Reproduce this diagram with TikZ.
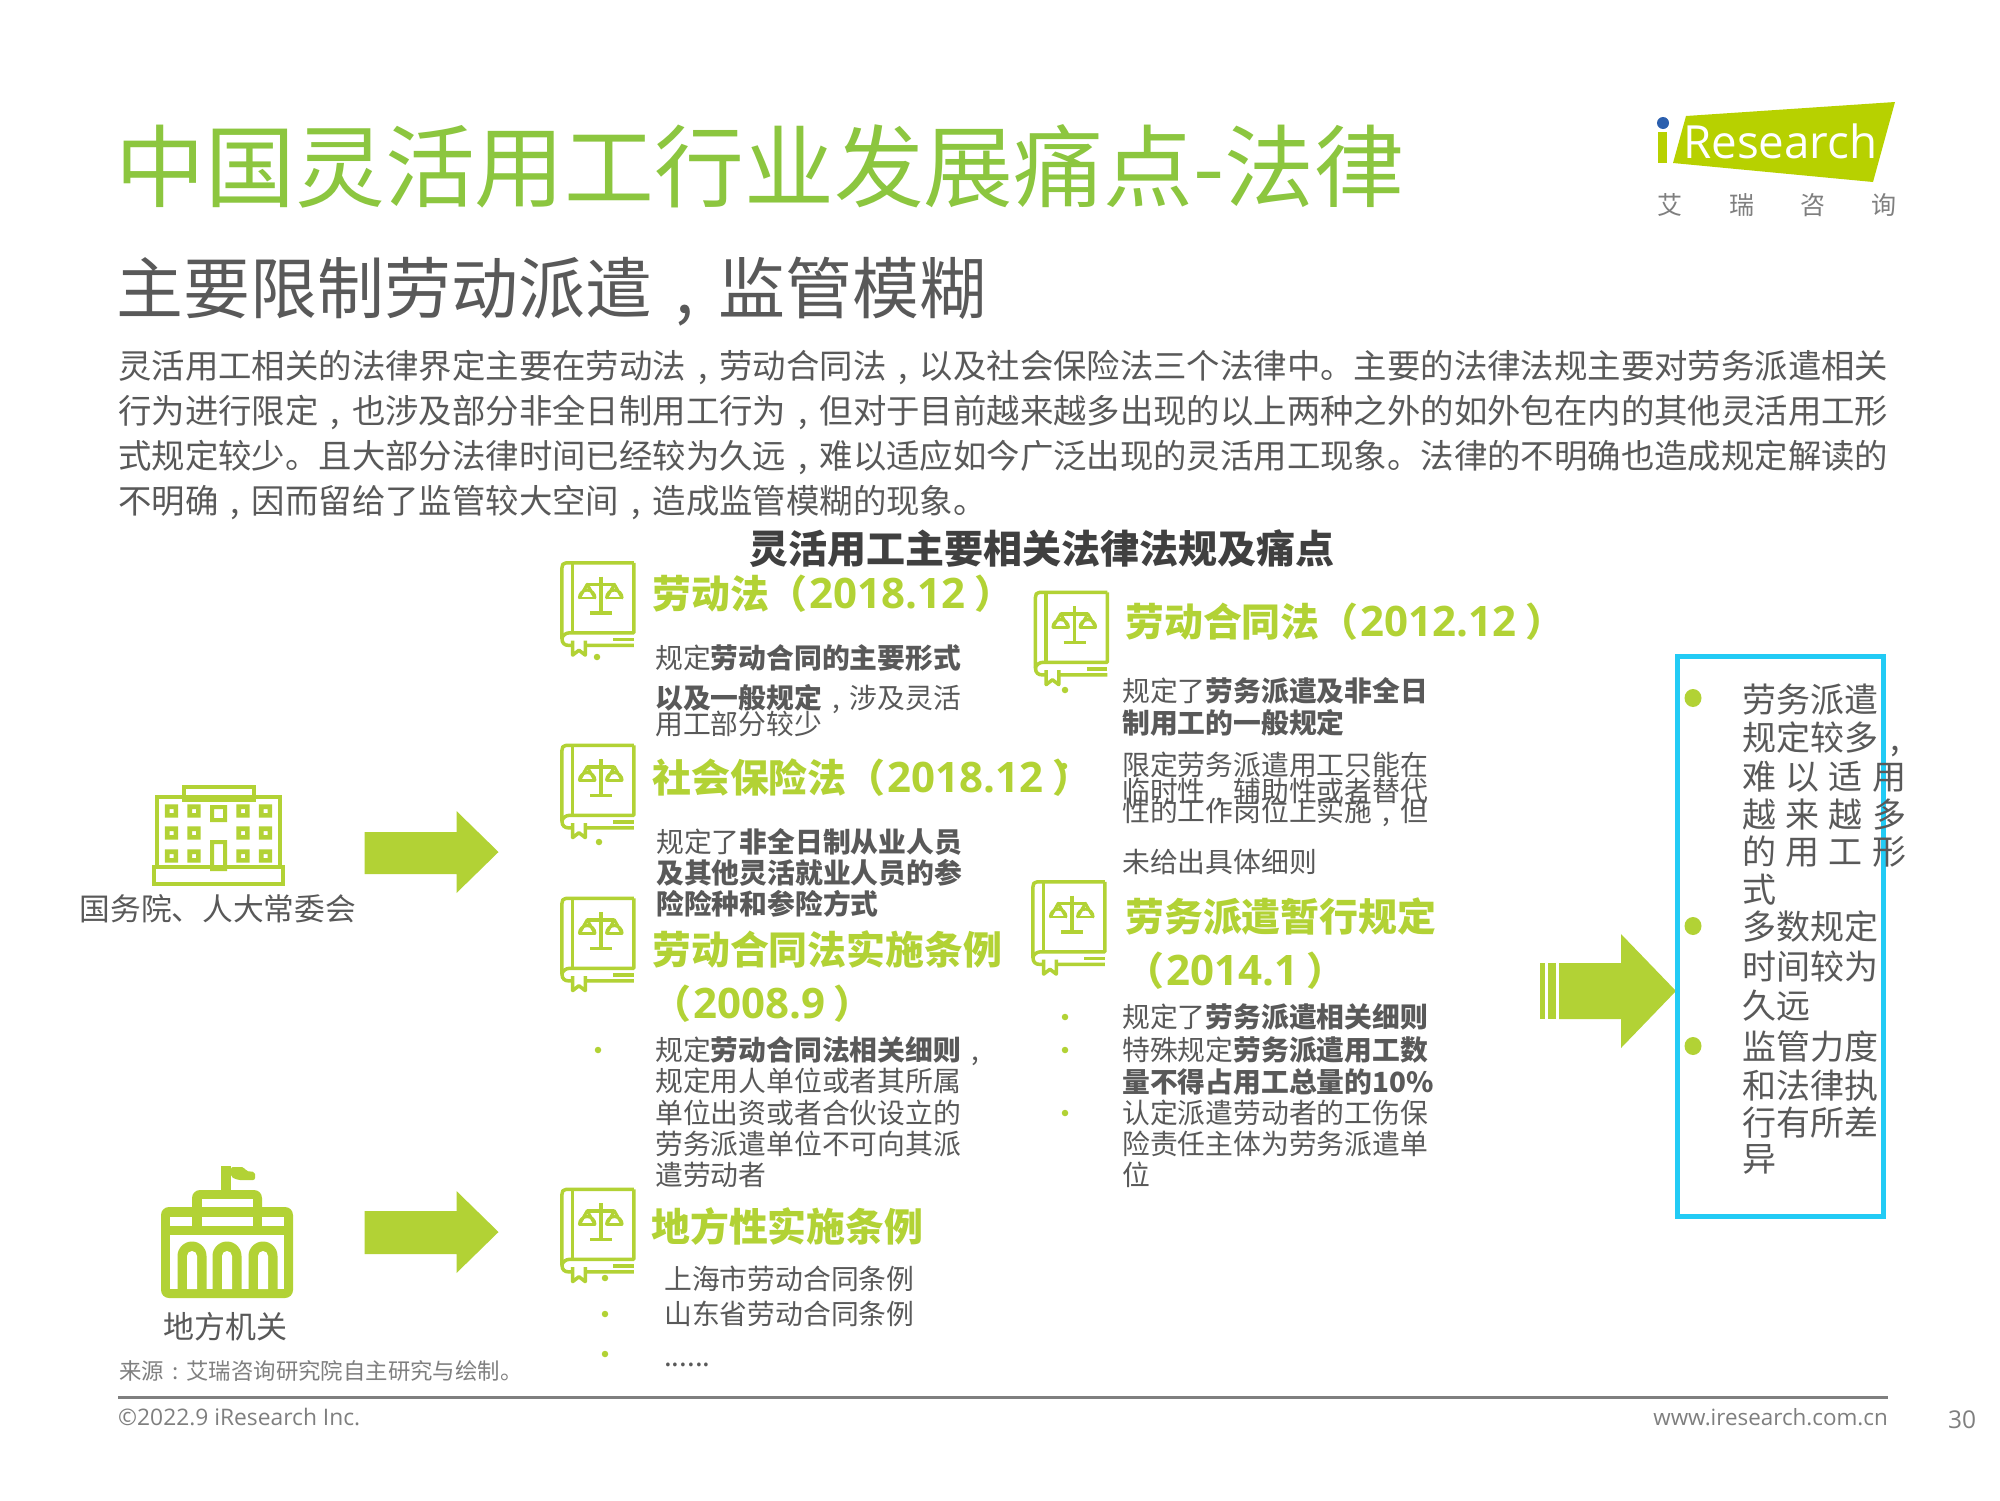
\documentclass[tikz,border=0pt]{standalone}
\usepackage{fontspec}
\setmainfont{Noto Sans CJK SC}
\newfontfamily\latinfont{Open Sans}
\definecolor{titlegreen}{HTML}{8CC63F}
\definecolor{icongreen}{HTML}{B2D235}
\definecolor{logogreen}{HTML}{B7D100}
\definecolor{logoblue}{HTML}{2B5FAE}
\definecolor{boxblue}{HTML}{22CBF5}
\definecolor{txtgray}{HTML}{595959}
\definecolor{darkgray}{HTML}{404040}
\definecolor{footgray}{HTML}{7F7F7F}
\usetikzlibrary{shapes.geometric}
\tikzset{
  x=1pt,y=-1pt,
  line/.style={anchor=west,inner sep=0pt,font=\fontsize{#1}{#1}\selectfont,text height=0.88*#1 pt,text depth=0.12*#1 pt},
  titleline/.style={line=89.8,text=titlegreen},
  subline/.style={line=66.9,text=txtgray},
  paraline/.style={line=33.4,text=txtgray},
  lawhead/.style={line=38.9,text=icongreen,font=\fontsize{38.9}{38.9}\selectfont\bfseries},
  small/.style={line=27.8,text=txtgray},
  boxline/.style={line=34,text=txtgray},
  tag/.style={line=30.7,text=txtgray},
  bullet/.style={circle,fill=icongreen,inner sep=0pt,minimum size=6.5pt},
  bigbullet/.style={ellipse,fill=icongreen,inner sep=0pt,minimum width=17pt,minimum height=18pt},
  bookline/.style={draw=icongreen,line width=3.5pt,line cap=butt,line join=round},
  blockarrow/.style={fill=icongreen,draw=none},
}
\newcommand{\zc}{\makebox[1em][c]{,}}
\newcommand{\zcolon}{\makebox[1em][c]{:}}
\newcommand{\yr}[1]{\hspace{2pt}{\latinfont\fontsize{42}{42}\selectfont\bfseries #1}\hspace{9pt}）}
\newcommand{\bookicon}[2]{%
  \begin{scope}[shift={(#1,#2)},scale=0.97]
    \draw[bookline] (75,2) -- (5,2) .. controls (2,2) and (1,4) .. (1,7) -- (1,80) .. controls (1,85) and (4,87) .. (8,87) -- (75,87);
    \draw[bookline] (75,2) -- (75,74) -- (9,74) .. controls (5,74) and (1,77) .. (1,80);
    \draw[bookline] (12,2) -- (12,74);
    \draw[bookline] (54,81) -- (75,81);
    \draw[bookline,fill=white] (12,82) -- (12,97) -- (18.5,92) -- (25,97) -- (25,82);
    \draw[bookline] (41,16) -- (41,53);
    \draw[bookline] (30,53.5) -- (53,53.5);
    \draw[bookline] (27,24) -- (55,24);
    \draw[bookline,line width=3pt] (27,24) -- (19,38) arc[start angle=180,end angle=360,x radius=8,y radius=8] -- cycle;
    \draw[bookline,line width=3pt] (55,24) -- (47,38) arc[start angle=180,end angle=360,x radius=8,y radius=8] -- cycle;
    \draw[bookline,line width=2.4pt] (19,38) -- (35,38) (47,38) -- (63,38);
  \end{scope}}
\begin{document}
\begin{tikzpicture}
\useasboundingbox (0,0) rectangle (2000,1500);
\fill[white] (0,0) rectangle (2000,1500);

% header
\node[titleline] (title) at (115.5,166) {中国灵活用工行业发展痛点-法律};
\node[subline] (sub) at (116.5,288) {主要限制劳动派遣\zc 监管模糊};
\node[paraline] (p1) at (118,366) {灵活用工相关的法律界定主要在劳动法\zc 劳动合同法\zc 以及社会保险法三个法律中。主要的法律法规主要对劳务派遣相关};
\node[paraline] (p2) at (118,411) {行为进行限定\zc 也涉及部分非全日制用工行为\zc 但对于目前越来越多出现的以上两种之外的如外包在内的其他灵活用工形};
\node[paraline] (p3) at (118,456) {式规定较少。且大部分法律时间已经较为久远\zc 难以适应如今广泛出现的灵活用工现象。法律的不明确也造成规定解读的};
\node[paraline] (p4) at (118,501) {不明确\zc 因而留给了监管较大空间\zc 造成监管模糊的现象。};
\node[line=39,text=darkgray,font=\fontsize{39}{39}\selectfont\bfseries] (chart) at (749.5,548.5) {灵活用工主要相关法律法规及痛点};

% logo
\fill[logogreen] (1686,116) -- (1895,102) -- (1873,182) -- (1673,163) -- cycle;
\fill[logogreen] (1658,132) rectangle (1667,163);
\fill[logoblue] (1663,123) circle[radius=6];
\node[anchor=base west,inner sep=0pt,text=white,font=\latinfont\fontsize{45.7}{45.7}\selectfont] (logotext) at (1683,158) {Research};
\node[line=25,text=footgray] (l1) at (1657,205) {艾};
\node[line=25,text=footgray] (l2) at (1729,205) {瑞};
\node[line=25,text=footgray] (l3) at (1800,205) {咨};
\node[line=25,text=footgray] (l4) at (1871,205) {询};

% left column icons
\begin{scope}[icongreen]
  % government building
  \draw[line width=4pt,fill=white] (184,787) rectangle (254,800);
  \draw[line width=4pt] (157,797) rectangle (280,868);
  \draw[line width=4pt,fill=white] (154,867) rectangle (283,884);
  \foreach \cx in {171.5,194,243,265.5}
    \foreach \cy in {811,833,856}
      {\fill[even odd rule] (\cx-6.7,\cy-6.7) rectangle (\cx+6.7,\cy+6.7) (\cx-2,\cy-2) rectangle (\cx+2,\cy+2);}
  \fill[even odd rule] (210,805) rectangle (227,822) (214,809) rectangle (223,818);
  \fill[even odd rule] (210,840) rectangle (227,871) (214,844) rectangle (223,867);
\end{scope}
\node[tag] (gov) at (79.5,909) {国务院、人大常委会};

\begin{scope}[icongreen]
  % local authority building
  \fill (221,1166) rectangle (231,1190);
  \fill[rounded corners=2pt] (231,1167) -- (244,1167) -- (246,1171) -- (255,1172) -- (255,1180) -- (238,1180) -- (231,1177) -- cycle;
  \fill[rounded corners=8pt] (192,1190) rectangle (262,1225);
  \fill[rounded corners=8pt] (161,1207) rectangle (293,1298);
  \fill[white] (202,1199) rectangle (253,1207);
  \fill[white] (170,1217) rectangle (192,1226);
  \fill[white] (202,1217) rectangle (253,1226);
  \fill[white] (262,1217) rectangle (284,1226);
  \fill[white] (170,1235) rectangle (284,1289);
  \foreach \ax in {192,227,263}
    {\fill (\ax-14.5,1289) -- (\ax-14.5,1256) arc[start angle=180,end angle=0,x radius=14.5,y radius=-14.5] -- (\ax+14.5,1289) -- cycle;
     \fill[white] (\ax-5,1289) -- (\ax-5,1256) arc[start angle=180,end angle=0,x radius=5,y radius=-5] -- (\ax+5,1289) -- cycle;}
\end{scope}
\node[line=31,text=txtgray] (local) at (163,1327) {地方机关};

% block arrows
\fill[blockarrow] (364.5,832) -- (456.5,832) -- (456.5,811) -- (498.5,852) -- (456.5,893) -- (456.5,874) -- (364.5,874) -- cycle;
\fill[blockarrow] (364.5,1211) -- (456.5,1211) -- (456.5,1191) -- (498.5,1232) -- (456.5,1273) -- (456.5,1254) -- (364.5,1254) -- cycle;
\fill[blockarrow] (1559,963) -- (1621,963) -- (1621,934) -- (1676,991) -- (1621,1048) -- (1621,1019) -- (1559,1019) -- cycle;
\fill[blockarrow] (1539.5,963) rectangle (1544.5,1019);
\fill[blockarrow] (1547.5,963) rectangle (1555.5,1019);

% middle column
\bookicon{561}{561}
\node[lawhead] (h1) at (652,594) {劳动法（\yr{2018.12}};
\node[small] (a1) at (655,658) {规定{\bfseries 劳动合同的主要形式}};
\node[small] (a2) at (655,698) {{\bfseries 以及一般规定}\zc 涉及灵活};
\node[small] (a3) at (655,724) {用工部分较少};
\node[bullet] (ab1) at (597,657) {};

\bookicon{561}{743.5}
\node[lawhead] (h2) at (652,778) {社会保险法（\yr{2018.12}};
\node[small] (b1) at (656,842) {规定了{\bfseries 非全日制从业人员}};
\node[small] (b2) at (656,873) {{\bfseries 及其他灵活就业人员的参}};
\node[small] (b3) at (656,904) {{\bfseries 险险种和参险方式}};
\node[bullet] (bb1) at (599,842) {};

\bookicon{561}{896.5}
\node[lawhead] (h3) at (652,950) {劳动合同法实施条例};
\node[lawhead] (h3b) at (652,1004) {（\yr{2008.9}};
\node[small] (c1) at (655,1050) {规定{\bfseries 劳动合同法相关细则}\zc};
\node[small] (c2) at (655,1081) {规定用人单位或者其所属};
\node[small] (c3) at (655,1113) {单位出资或者合伙设立的};
\node[small] (c4) at (655,1144) {劳务派遣单位不可向其派};
\node[small] (c5) at (655,1175) {遣劳动者};
\node[bullet] (cb1) at (598,1050) {};

\bookicon{561}{1187.5}
\node[lawhead] (h4) at (651,1227) {地方性实施条例};
\node[small] (d1) at (664,1279) {上海市劳动合同条例};
\node[small] (d2) at (664,1314) {山东省劳动合同条例};
\node[small] (d3) at (664,1356) {......};
\node[bullet] (db1) at (605,1278) {};
\node[bullet] (db2) at (605,1314) {};
\node[bullet] (db3) at (605,1354) {};

% right column
\bookicon{1034.5}{590.5}
\node[lawhead] (h5) at (1125,622) {劳动合同法（\yr{2012.12}};
\node[small] (e1) at (1122,691) {规定了{\bfseries 劳务派遣及非全日}};
\node[small] (e2) at (1122,723) {{\bfseries 制用工的一般规定}};
\node[small] (e3) at (1122,765) {限定劳务派遣用工只能在};
\node[small] (e4) at (1122,791) {临时性\zc 辅助性或者替代};
\node[small] (e5) at (1122,811) {性的工作岗位上实施\zc 但};
\node[small] (e6) at (1122,862) {未给出具体细则};
\node[bullet] (eb1) at (1065,690) {};
\node[bullet] (eb2) at (1064,766) {};

\bookicon{1032}{880}
\node[lawhead] (h6) at (1125,917) {劳务派遣暂行规定};
\node[lawhead] (h6b) at (1125,971) {（\yr{2014.1}};
\node[small] (f1) at (1122,1017) {规定了{\bfseries 劳务派遣相关细则}};
\node[small] (f2) at (1122,1050) {特殊规定{\bfseries 劳务派遣用工数}};
\node[small] (f3) at (1122,1082) {{\bfseries 量不得占用工总量的10\%}};
\node[small] (f4) at (1122,1113) {认定派遣劳动者的工伤保};
\node[small] (f5) at (1122,1144) {险责任主体为劳务派遣单};
\node[small] (f6) at (1122,1175) {位};
\node[bullet] (fb1) at (1065,1017) {};
\node[bullet] (fb2) at (1065,1050) {};
\node[bullet] (fb3) at (1065,1113) {};

% blue box
\node[draw=boxblue,line width=5pt,inner sep=0pt,minimum width=206pt,minimum height=560pt,anchor=north west] (box) at (1675,654) {};
\node[bigbullet] (g1) at (1693,698) {};
\node[bigbullet] (g2) at (1693,926) {};
\node[bigbullet] (g3) at (1693,1046) {};
\node[boxline] (k1) at (1742,700) {劳务派遣};
\node[boxline] (k2) at (1742,738) {规定较多\zc};
\node[boxline] (k3) at (1742,777) {\makebox[164pt][s]{难\hfill 以\hfill 适\hfill 用}};
\node[boxline] (k4) at (1742,815) {\makebox[164pt][s]{越\hfill 来\hfill 越\hfill 多}};
\node[boxline] (k5) at (1742,852) {\makebox[164pt][s]{的\hfill 用\hfill 工\hfill 形}};
\node[boxline] (k6) at (1742,890) {式};
\node[boxline] (k7) at (1742,927) {多数规定};
\node[boxline] (k8) at (1742,967) {时间较为};
\node[boxline] (k9) at (1742,1006) {久远};
\node[boxline] (k10) at (1742,1047) {监管力度};
\node[boxline] (k11) at (1742,1086) {和法律执};
\node[boxline] (k12) at (1742,1123) {行有所差};
\node[boxline] (k13) at (1742,1159) {异};

% footer
\node[line=22.4,text=footgray] (src) at (119,1371) {来源\zcolon 艾瑞咨询研究院自主研究与绘制。};
\coordinate (ruleL) at (118,1397.5);
\coordinate (ruleR) at (1888,1397.5);
\draw[footgray,line width=2.2pt] (ruleL) -- (ruleR);
\node[line=22.8,text=footgray,font=\latinfont\fontsize{22.8}{22.8}\selectfont] (copy) at (118,1417) {©2022.9 iResearch Inc.};
\node[line=22.4,text=footgray,font=\latinfont\fontsize{22.4}{22.4}\selectfont,anchor=east] (web) at (1888,1417) {www.iresearch.com.cn};
\node[line=24.5,text=footgray,font=\latinfont\fontsize{24.5}{24.5}\selectfont] (page) at (1948,1419) {30};
\end{tikzpicture}
\end{document}
